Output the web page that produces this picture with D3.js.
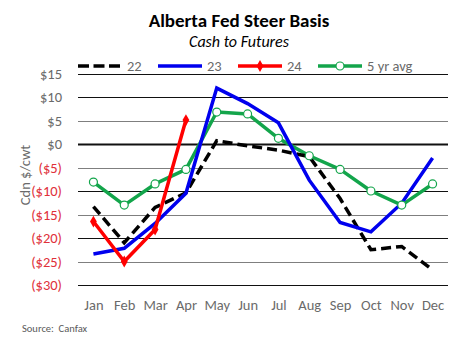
<!DOCTYPE html>
<html><head><meta charset="utf-8">
<script src="https://cdn.jsdelivr.net/npm/d3@7"></script>
<style>body{margin:0;background:#fff}svg{display:block}</style>
</head><body>
<svg id="c" width="461" height="340"></svg>
<script>
const months = ["Jan","Feb","Mar","Apr","May","Jun","Jul","Aug","Sep","Oct","Nov","Dec"];
const s22 = [-13.3,-21,-13.5,-10.4,0.7,-0.4,-1.3,-2.7,-11.6,-22.5,-21.8,-26.8];
const s23 = [-23.4,-22.2,-16.9,-10.5,11.9,8.6,4.5,-7.7,-16.7,-18.7,-12.6,-3.0];
const s24 = [-16.5,-25,-18.2,5.1];
const s5y = [-8.1,-13,-8.5,-5.4,6.8,6.4,1.2,-2.5,-5.4,-10,-13,-8.5];
const yTicks = [15,10,5,0,-5,-10,-15,-20,-25,-30];

const svg = d3.select("#c");
const font = "Carlito, 'Open Sans', 'Noto Sans', sans-serif";
const fs = 14.5;
const x = d3.scaleBand().domain(months).range([78,448]);
const y = d3.scaleLinear().domain([-30,15]).range([285,73.5]);
const cx = m => x(m) + x.bandwidth()/2;

// gridlines
svg.append("g").selectAll("line").data(yTicks).join("line")
  .attr("x1",78).attr("x2",448)
  .attr("y1",d=>Math.round(y(d))+0.5).attr("y2",d=>Math.round(y(d))+0.5)
  .attr("stroke",d=> (d===0||d===15||d===10||d===-20||d===-30||d===-10) ? "#111" : "#7f7f7f")
  .attr("stroke-width",d=>d===0?2:1.2);

// y labels
const fmt = d => d<0 ? "($"+(-d)+")" : "$"+d;
svg.append("g").selectAll("text").data(yTicks).join("text")
  .attr("x",62).attr("y",d=>y(d)+5).attr("text-anchor","end")
  .attr("font-family",font).attr("font-size",fs)
  .attr("fill",d=>d<0?"#e0303a":"#6a6a6a").text(fmt);

// x labels
svg.append("g").selectAll("text").data(months).join("text")
  .attr("x",d=>cx(d)+0.5).attr("y",310).attr("text-anchor","middle")
  .attr("font-family",font).attr("font-size",fs).attr("fill","#6a6a6a").text(d=>d);

// axis title
svg.append("text").attr("transform","translate(30,175) rotate(-90)")
  .attr("text-anchor","middle").attr("font-family",font).attr("font-size",fs)
  .attr("fill","#6a6a6a").text("Cdn $/cwt");

// title
svg.append("text").attr("x",239).attr("y",27).attr("text-anchor","middle")
  .attr("font-family",font).attr("font-size",19).attr("font-weight","bold").attr("fill","#000")
  .text("Alberta Fed Steer Basis");
svg.append("text").attr("x",239).attr("y",47).attr("text-anchor","middle")
  .attr("font-family",font).attr("font-size",16).attr("font-style","italic").attr("fill","#000")
  .text("Cash to Futures");

// source
svg.append("text").attr("x",22).attr("y",332).attr("font-family",font).attr("font-size",10.5)
  .attr("fill","#595959").attr("xml:space","preserve").style("white-space","pre").text("Source:  Canfax");

const line = d3.line().x((d,i)=>cx(months[i])).y(d=>y(d));

const green = "#13a54b";
// series
svg.append("path").datum(s5y).attr("d",line).attr("fill","none").attr("stroke",green).attr("stroke-width",3.5).attr("stroke-linejoin","round");
svg.append("path").datum(s22).attr("d",line).attr("fill","none").attr("stroke","#000").attr("stroke-width",3.5).attr("stroke-dasharray","10,5");
svg.append("path").datum(s23).attr("d",line).attr("fill","none").attr("stroke","#0000ee").attr("stroke-width",3.5);
svg.append("path").datum(s24).attr("d",line).attr("fill","none").attr("stroke","#ff0000").attr("stroke-width",3.5);
svg.append("g").selectAll("path").data(s24).join("path")
  .attr("d",d3.symbol(d3.symbolDiamond,40)).attr("fill","#ff0000")
  .attr("transform",(d,i)=>`translate(${cx(months[i])},${y(d)})`);
svg.append("g").selectAll("circle").data(s5y).join("circle")
  .attr("cx",(d,i)=>cx(months[i])).attr("cy",d=>y(d)).attr("r",4)
  .attr("fill","#fff").attr("stroke",green).attr("stroke-width",1.2);

// legend
const leg = [
  {name:"22", x:78, c:"#000", dash:"11,4.5"},
  {name:"23", x:158, c:"#0000ee"},
  {name:"24", x:238, c:"#ff0000", mk:"d"},
  {name:"5 yr avg", x:318, c:green, mk:"c"}
];
const lg = svg.append("g");
leg.forEach(l=>{
  lg.append("line").attr("x1",l.x).attr("x2",l.x+44).attr("y1",66).attr("y2",66)
    .attr("stroke",l.c).attr("stroke-width",3.5).attr("stroke-dasharray",l.dash||null);
  if(l.mk==="d") lg.append("path").attr("d",d3.symbol(d3.symbolDiamond,40)).attr("fill",l.c).attr("transform",`translate(${l.x+22},66)`);
  if(l.mk==="c") lg.append("circle").attr("cx",l.x+22).attr("cy",66).attr("r",4).attr("fill","#fff").attr("stroke",l.c).attr("stroke-width",1.2);
  lg.append("text").attr("x",l.x+49).attr("y",70.5).attr("font-family",font).attr("font-size",fs).attr("fill","#6a6a6a").text(l.name);
});
</script>
</body></html>
